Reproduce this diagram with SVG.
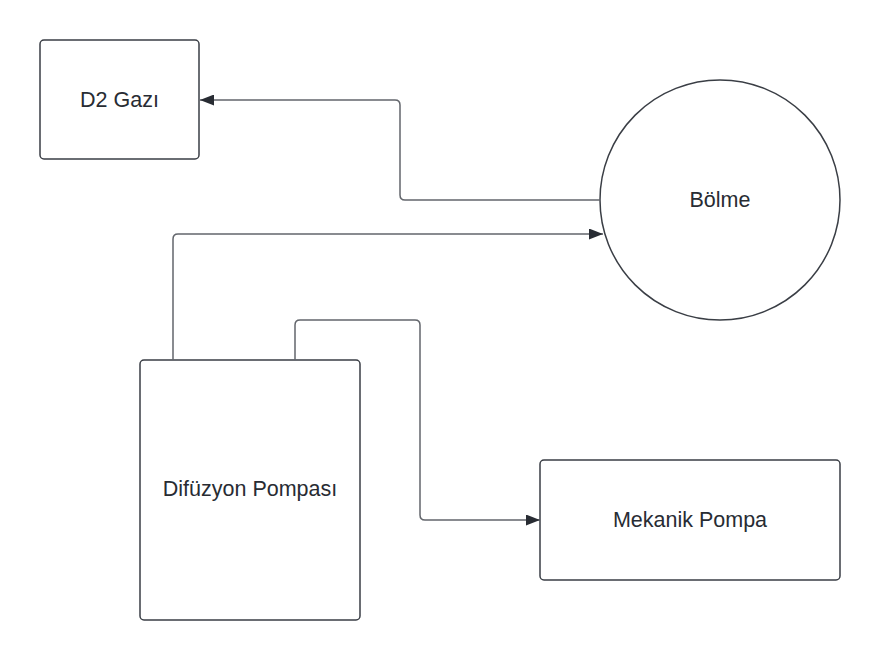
<svg xmlns="http://www.w3.org/2000/svg" width="880" height="660" viewBox="0 0 880 660">
<style>
.node{fill:#ffffff;stroke:#3a3e45;stroke-width:1.5}
.lbl{font-family:"Liberation Sans",Arial,sans-serif;font-size:21.5px;fill:#282c33;text-anchor:middle;dominant-baseline:central}
.conn{fill:none;stroke:#63666c;stroke-width:1.5;stroke-linejoin:round}
</style>
<defs>
<marker id="ah" viewBox="0 0 14 11" refX="14" refY="5.5" markerWidth="14" markerHeight="11" markerUnits="userSpaceOnUse" orient="auto">
<path d="M0,0 L14,5.5 L0,11 Z" fill="#282c33"/>
</marker>
</defs>
<rect width="880" height="660" fill="#ffffff"/>
<g id="d2gazi">
<rect class="node" x="40" y="40" width="159" height="119" rx="4"/>
<text class="lbl" x="119.5" y="100">D2 Gazı</text>
</g>
<g id="bolme">
<circle class="node" cx="720" cy="200" r="120"/>
<text class="lbl" x="720" y="200">Bölme</text>
</g>
<g id="difuzyon">
<rect class="node" x="140" y="360" width="220" height="260" rx="4"/>
<text class="lbl" x="250" y="489">Difüzyon Pompası</text>
</g>
<g id="mekanik">
<rect class="node" x="540" y="460" width="300" height="120" rx="4"/>
<text class="lbl" x="690" y="520">Mekanik Pompa</text>
</g>
<g id="connectors">
<path class="conn" d="M600,200 H405 Q400,200 400,195 V105 Q400,100 395,100 H200" marker-end="url(#ah)"/>
<path class="conn" d="M173,360 V239 Q173,234 178,234 H603" marker-end="url(#ah)"/>
<path class="conn" d="M295,360 V325 Q295,320 300,320 H415 Q420,320 420,325 V515 Q420,520 425,520 H540" marker-end="url(#ah)"/>
</g>
</svg>
